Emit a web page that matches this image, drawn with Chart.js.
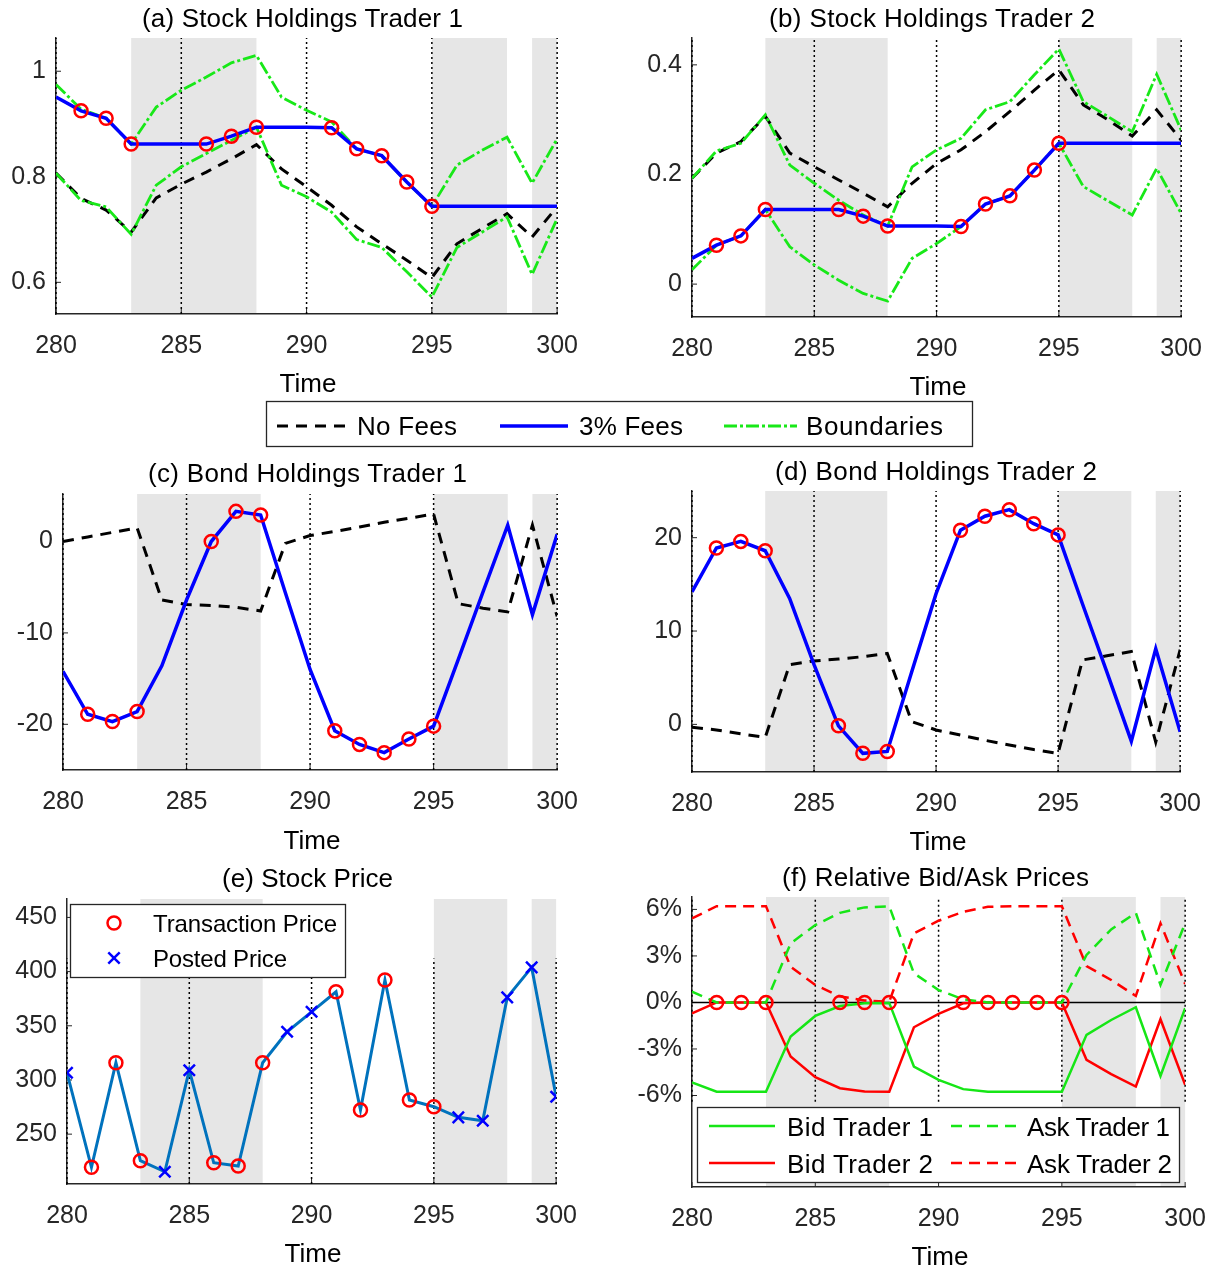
<!DOCTYPE html>
<html>
<head>
<meta charset="utf-8">
<script src="https://cdn.jsdelivr.net/npm/chart.js@4.4.1/dist/chart.umd.min.js"></script>
<style>
body { margin: 0; background: #fff; width: 1217px; height: 1270px; position: relative; overflow: hidden; }
canvas { position: absolute; }
#overlay { position: absolute; left: 0; top: 0; font-family: "Liberation Sans", Arial, sans-serif; }
#overlay text { fill: #000; }
</style>
</head>
<body>
<canvas id="pa"></canvas>
<canvas id="pb"></canvas>
<canvas id="pc"></canvas>
<canvas id="pd"></canvas>
<canvas id="pe"></canvas>
<canvas id="pf"></canvas>

<svg id="overlay" width="1217" height="1270">
  <!-- titles -->
  <g font-size="26">
    <text x="142" y="27" textLength="321">(a) Stock Holdings Trader 1</text>
    <text x="769" y="27" textLength="326">(b) Stock Holdings Trader 2</text>
    <text x="148" y="482" textLength="319">(c) Bond Holdings Trader 1</text>
    <text x="775" y="480" textLength="322">(d) Bond Holdings Trader 2</text>
    <text x="222" y="887" textLength="171">(e) Stock Price</text>
    <text x="782" y="886" textLength="307">(f) Relative Bid/Ask Prices</text>
  </g>
  <!-- x axis labels -->
  <g font-size="26" text-anchor="middle" style="fill:#262626">
    <text x="308" y="392">Time</text>
    <text x="938" y="395">Time</text>
    <text x="312" y="849">Time</text>
    <text x="938" y="850">Time</text>
    <text x="313" y="1262">Time</text>
    <text x="940" y="1265">Time</text>
  </g>

  <!-- shared legend -->
  <rect x="266.5" y="401.5" width="706" height="45" fill="#fff" stroke="#262626" stroke-width="1.3"/>
  <line x1="277" y1="426" x2="345" y2="426" stroke="#000" stroke-width="3" stroke-dasharray="11 8"/>
  <text x="357" y="435" font-size="26" textLength="100">No Fees</text>
  <line x1="500" y1="426" x2="568" y2="426" stroke="#0000ff" stroke-width="3.5"/>
  <text x="579" y="435" font-size="26" textLength="104">3% Fees</text>
  <line x1="724" y1="426" x2="797" y2="426" stroke="#18e818" stroke-width="2.8" stroke-dasharray="13 3 3 3"/>
  <text x="806" y="435" font-size="26" textLength="137">Boundaries</text>

  <!-- legend (e) -->
  <rect x="70.5" y="904.5" width="275" height="73" fill="#fff" stroke="#262626" stroke-width="1.3"/>
  <circle cx="114" cy="923" r="6.5" fill="none" stroke="#ff0000" stroke-width="2.5"/>
  <text x="153" y="931.5" font-size="24" textLength="184">Transaction Price</text>
  <line x1="108.3" y1="952.3" x2="119.7" y2="963.7" stroke="#0000ff" stroke-width="2.5"/>
  <line x1="108.3" y1="963.7" x2="119.7" y2="952.3" stroke="#0000ff" stroke-width="2.5"/>
  <text x="153" y="966.5" font-size="24" textLength="134">Posted Price</text>

  <!-- legend (f) -->
  <rect x="697.5" y="1107.5" width="482" height="75" fill="#fff" stroke="#262626" stroke-width="1.3"/>
  <line x1="709" y1="1126" x2="775" y2="1126" stroke="#16e616" stroke-width="2.5"/>
  <text x="787" y="1135.5" font-size="26" textLength="146">Bid Trader 1</text>
  <line x1="951" y1="1126" x2="1016" y2="1126" stroke="#16e616" stroke-width="2.5" stroke-dasharray="11 7"/>
  <text x="1027" y="1135.5" font-size="26" textLength="143">Ask Trader 1</text>
  <line x1="709" y1="1163" x2="775" y2="1163" stroke="#ff0000" stroke-width="2.5"/>
  <text x="787" y="1172.5" font-size="26" textLength="146">Bid Trader 2</text>
  <line x1="951" y1="1163" x2="1016" y2="1163" stroke="#ff0000" stroke-width="2.5" stroke-dasharray="11 7"/>
  <text x="1027" y="1172.5" font-size="26" textLength="145">Ask Trader 2</text>
</svg>

<script>
// time axis and shared bits
const time = [280, 281, 282, 283, 284, 285, 286, 287, 288, 289, 290, 291, 292, 293, 294, 295, 296, 297, 298, 299, 300];
const trades = [281, 282, 283, 286, 287, 288, 291, 292, 293, 294, 295];
const shades = [[283, 288], [295, 298], [299, 300]];
const xTicks = [280, 285, 290, 295, 300];

// (a) stock holdings trader 1
const noFeesA = [0.807, 0.759, 0.737, 0.695, 0.760, 0.786, 0.809, 0.834, 0.861, 0.815, 0.781, 0.746, 0.705, 0.673, 0.642, 0.609, 0.673, 0.702, 0.730, 0.686, 0.743];
const feesA = [0.951, 0.925, 0.911, 0.862, 0.862, 0.862, 0.862, 0.877, 0.894, 0.894, 0.894, 0.893, 0.853, 0.840, 0.790, 0.744, 0.744, 0.744, 0.744, 0.744, 0.744];
const upperA = [0.975, 0.928, 0.911, 0.862, 0.932, 0.964, 0.989, 1.016, 1.030, 0.951, 0.926, 0.904, 0.853, 0.840, 0.790, 0.744, 0.822, 0.850, 0.875, 0.788, 0.872];
const lowerA = [0.807, 0.755, 0.743, 0.691, 0.784, 0.819, 0.844, 0.869, 0.894, 0.784, 0.762, 0.733, 0.681, 0.666, 0.620, 0.572, 0.666, 0.695, 0.724, 0.615, 0.721];
const ticksA = [0.6, 0.8, 1];

// (b) stock holdings trader 2
const noFeesB = [0.193, 0.239, 0.260, 0.306, 0.239, 0.214, 0.190, 0.166, 0.141, 0.184, 0.220, 0.245, 0.278, 0.315, 0.354, 0.391, 0.327, 0.300, 0.270, 0.318, 0.263];
const feesB = [0.047, 0.071, 0.088, 0.136, 0.136, 0.136, 0.136, 0.124, 0.106, 0.106, 0.106, 0.105, 0.146, 0.161, 0.208, 0.257, 0.257, 0.257, 0.257, 0.257, 0.257];
const upperB = [0.193, 0.243, 0.257, 0.309, 0.217, 0.184, 0.153, 0.126, 0.106, 0.214, 0.245, 0.266, 0.318, 0.333, 0.382, 0.429, 0.333, 0.306, 0.278, 0.383, 0.281];
const lowerB = [0.026, 0.071, 0.088, 0.136, 0.068, 0.035, 0.007, -0.017, -0.031, 0.047, 0.074, 0.105, 0.146, 0.161, 0.208, 0.257, 0.178, 0.152, 0.126, 0.211, 0.129];
const ticksB = [0, 0.2, 0.4];

// (c) bond holdings trader 1
const noFeesC = [0.0, 0.5, 1.0, 1.5, -6.4, -6.9, -7.0, -7.2, -7.6, -0.2, 0.65, 1.1, 1.6, 2.1, 2.55, 3.0, -6.8, -7.3, -7.7, 1.8, -8.2];
const feesC = [-14.2, -18.9, -19.7, -18.6, -13.6, -6.4, 0.0, 3.3, 2.9, -5.6, -14.0, -20.7, -22.2, -23.1, -21.6, -20.2, -12.9, -5.5, 1.8, -8.0, 0.8];
const ticksC = [-20, -10, 0];

// (d) bond holdings trader 2
const noFeesD = [-0.3, -0.6, -1.0, -1.4, 6.4, 6.8, 7.0, 7.25, 7.6, 0.3, -0.6, -1.15, -1.7, -2.2, -2.7, -3.1, 6.9, 7.35, 7.8, -1.9, 8.0];
const feesD = [14.2, 18.9, 19.6, 18.6, 13.5, 6.4, -0.15, -3.1, -2.9, 5.6, 14.0, 20.8, 22.3, 23.0, 21.5, 20.3, 12.9, 5.6, -1.8, 8.1, -0.8];
const ticksD = [0, 10, 20];

// (e) stock price
const priceE = [306.6, 219.4, 315.9, 225.5, 215.3, 309.0, 223.6, 220.6, 315.9, 344.5, 362.9, 381.4, 272.2, 392.2, 281.5, 275.3, 265.5, 262.4, 376.2, 403.9, 284.5];
const ticksE = [250, 300, 350, 400, 450];

// (f) relative bid/ask prices, in %
const bid1 = [-5.16, -5.76, -5.76, -5.76, -2.2, -0.87, -0.23, -0.05, -0.03, -4.13, -4.99, -5.59, -5.76, -5.76, -5.76, -5.76, -2.09, -1.13, -0.31, -4.74, -0.37];
const ask1 = [0.70, 0.0, 0.0, 0.0, 3.81, 4.99, 5.78, 6.13, 6.2, 1.88, 0.80, 0.2, 0.0, 0.0, 0.0, 0.0, 3.06, 4.71, 5.78, 1.13, 5.1];
const bid2 = [-0.70, 0.0, 0.0, 0.0, -3.49, -4.82, -5.53, -5.74, -5.76, -1.6, -0.74, -0.05, 0.0, 0.0, 0.0, 0.0, -3.7, -4.62, -5.42, -1.08, -5.31];
const ask2 = [5.42, 6.21, 6.21, 6.21, 2.3, 1.13, 0.39, 0.13, 0.05, 4.45, 5.27, 5.85, 6.17, 6.2, 6.2, 6.2, 2.35, 1.45, 0.42, 5.1, 1.19];
const ticksF = [-6, -3, 0, 3, 6];

const FONT = '"Liberation Sans", Arial, sans-serif';
const PT = 18, PR = 25, HX = 50;
const GREEN = '#18e818';

const pts = vals => time.map((t, i) => ({x: t, y: vals[i]}));
const isTrade = c => c.raw && trades.includes(c.raw.x);

// shading, dotted lines, zero line and inward ticks
const deco = {
  id: 'deco',
  beforeDraw(chart, args, o) {
    const {ctx, chartArea: a, scales: {x}} = chart;
    ctx.save();
    ctx.fillStyle = '#e6e6e6';
    shades.forEach(([s, e]) => {
      const x1 = x.getPixelForValue(s), x2 = x.getPixelForValue(e);
      ctx.fillRect(x1, a.top, x2 - x1, a.bottom - a.top);
    });
    ctx.restore();
  },
  beforeDatasetsDraw(chart, args, o) {
    const {ctx, chartArea: a, scales: {x, y}} = chart;
    ctx.save();
    ctx.strokeStyle = '#262626';
    ctx.lineWidth = 1;
    x.ticks.forEach(t => {
      const px = x.getPixelForValue(t.value);
      ctx.beginPath(); ctx.moveTo(px, a.bottom); ctx.lineTo(px, a.bottom - 5); ctx.stroke();
    });
    y.ticks.forEach(t => {
      const py = y.getPixelForValue(t.value);
      ctx.beginPath(); ctx.moveTo(a.left, py); ctx.lineTo(a.left + 5, py); ctx.stroke();
    });
    const y1 = o.dotFrom != null ? y.getPixelForValue(o.dotFrom) : a.bottom;
    const y2 = o.dotTo != null ? y.getPixelForValue(o.dotTo) : a.top;
    ctx.strokeStyle = '#000';
    ctx.lineWidth = 1.5;
    ctx.setLineDash([2, 3]);
    xTicks.forEach(v => {
      const px = x.getPixelForValue(v);
      ctx.beginPath(); ctx.moveTo(px, y1); ctx.lineTo(px, y2); ctx.stroke();
    });
    ctx.setLineDash([]);
    if (o.zeroLine) {
      const py = y.getPixelForValue(0);
      ctx.beginPath(); ctx.moveTo(a.left, py); ctx.lineTo(a.right, py); ctx.stroke();
    }
    ctx.restore();
  }
};

function config(box, yMin, yMax, yTicks, yFmt, datasets, decoOpts) {
  const tickFont = {family: FONT, size: 25};
  return {
    type: 'line',
    data: {datasets},
    options: {
      responsive: false, maintainAspectRatio: false, animation: false, devicePixelRatio: 1,
      layout: {padding: {top: PT, right: PR, left: 0, bottom: 0}},
      elements: {line: {tension: 0}, point: {radius: 0, hoverRadius: 0}},
      plugins: {legend: {display: false}, tooltip: {enabled: false}, deco: decoOpts || {}},
      scales: {
        x: {
          type: 'linear', min: 280, max: 300,
          grid: {display: false, drawTicks: false},
          border: {color: '#262626', width: 1.5},
          ticks: {padding: 17, color: '#262626', font: tickFont, maxRotation: 0, autoSkip: false},
          afterBuildTicks: s => { s.ticks = xTicks.map(v => ({value: v})); },
          afterFit: s => { s.height = HX; }
        },
        y: {
          type: 'linear', min: yMin, max: yMax,
          grid: {display: false, drawTicks: false},
          border: {color: '#262626', width: 1.5},
          ticks: {padding: 10, color: '#262626', font: tickFont, callback: v => yFmt(v)},
          afterBuildTicks: s => { s.ticks = yTicks.map(v => ({value: v})); },
          afterFit: s => { s.width = box.l - box.cl; }
        }
      }
    },
    plugins: [deco]
  };
}

// build once, measure where Chart.js put the plot area, then rebuild so it lands on the box
function panel(id, box, yMin, yMax, yTicks, yFmt, datasets, decoOpts) {
  const cv = document.getElementById(id);
  let extraR = 0, extraT = 0;
  for (let pass = 0; pass < 3; pass++) {
    const W = Math.round(box.r - box.cl + PR + extraR);
    const H = Math.round(PT + extraT + box.b - box.t + HX);
    cv.width = W; cv.height = H;
    cv.style.left = box.cl + 'px';
    cv.style.top = Math.round(box.t - PT - extraT) + 'px';
    cv.style.width = W + 'px'; cv.style.height = H + 'px';
    const chart = new Chart(cv, config(box, yMin, yMax, yTicks, yFmt, datasets, decoOpts));
    const ca = chart.chartArea;
    const dr = (box.r - box.cl) - ca.right;
    const dt = ca.top - (PT + extraT);
    if (Math.abs(dr) < 1 && Math.abs(dt) < 1) break;
    extraR += dr; extraT += dt;
    chart.destroy();
  }
}

const num = v => String(+v.toFixed(2));

function holdings(noFees, fees, upper, lower) {
  const ds = [{
    data: pts(fees), borderColor: '#0000ff', borderWidth: 3.5,
    pointRadius: c => isTrade(c) ? 6.5 : 0, pointStyle: 'circle',
    pointBorderColor: '#ff0000', pointBackgroundColor: 'rgba(0,0,0,0)', pointBorderWidth: 2.5
  }];
  if (upper) {
    ds.push({data: pts(upper), borderColor: GREEN, borderWidth: 2.8, borderDash: [13, 3, 3, 3]});
    ds.push({data: pts(lower), borderColor: GREEN, borderWidth: 2.8, borderDash: [13, 3, 3, 3]});
  }
  ds.push({data: pts(noFees), borderColor: '#000', borderWidth: 3, borderDash: [11, 8]});
  return ds;
}

panel('pa', {l: 56, r: 557, t: 38, b: 314, cl: 0}, 0.54, 1.063, ticksA, num,
  holdings(noFeesA, feesA, upperA, lowerA));
panel('pb', {l: 692, r: 1181, t: 38, b: 317, cl: 630}, -0.06, 0.449, ticksB, num,
  holdings(noFeesB, feesB, upperB, lowerB));
panel('pc', {l: 63, r: 557, t: 494, b: 770, cl: 0}, -25, 5.2, ticksC, num,
  holdings(noFeesC, feesC));
panel('pd', {l: 692, r: 1180, t: 491, b: 772, cl: 630}, -5.1, 25, ticksD, num,
  holdings(noFeesD, feesD));

panel('pe', {l: 67, r: 556, t: 899, b: 1184, cl: 0}, 204, 467, ticksE, num, [{
  data: pts(priceE), borderColor: '#0072bd', borderWidth: 3,
  pointStyle: c => isTrade(c) ? 'circle' : 'crossRot',
  pointRadius: c => isTrade(c) ? 6.5 : 8,
  pointBorderColor: c => isTrade(c) ? '#ff0000' : '#0000ff',
  pointBackgroundColor: 'rgba(0,0,0,0)', pointBorderWidth: 2.5
}], {dotTo: 412});

panel('pf', {l: 692, r: 1185, t: 897, b: 1187, cl: 630}, -11.9, 6.8, ticksF, v => v + '%', [
  {data: trades.map(t => ({x: t, y: 0})), showLine: false, pointRadius: 6.5,
   pointBorderColor: '#ff0000', pointBackgroundColor: 'rgba(0,0,0,0)', pointBorderWidth: 2.5},
  {data: pts(bid1), borderColor: '#16e616', borderWidth: 2.5},
  {data: pts(ask1), borderColor: '#16e616', borderWidth: 2.5, borderDash: [11, 7]},
  {data: pts(bid2), borderColor: '#ff0000', borderWidth: 2.5},
  {data: pts(ask2), borderColor: '#ff0000', borderWidth: 2.5, borderDash: [11, 7]}
], {dotFrom: -6.4, zeroLine: true});
</script>
</body>
</html>
